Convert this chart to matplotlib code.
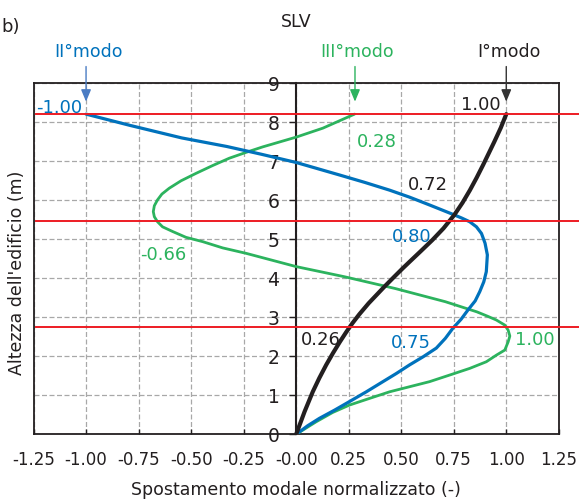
import matplotlib
matplotlib.use("Agg")
import matplotlib.pyplot as plt

# Floor levels (m) marked by the red lines
floor_levels = [2.76, 5.48, 8.21]

# Mode shapes: height (m) and normalised displacement
mode1_y = [0, 0.58, 1.09, 1.44, 1.78, 2.08, 2.37, 2.61, 2.85, 3.08, 3.36, 3.78, 4.03, 4.26, 4.43, 4.68, 4.98,
           5.28, 5.62, 5.94, 6.26, 6.58, 6.91, 7.21, 7.50, 7.86, 8.21]
mode1_x = [0, 0.040, 0.079, 0.110, 0.143, 0.175, 0.208, 0.237, 0.268, 0.301, 0.345, 0.419, 0.465, 0.508, 0.541,
           0.590, 0.648, 0.701, 0.752, 0.792, 0.827, 0.859, 0.890, 0.917, 0.943, 0.974, 1.0]

mode2_y = [0, 0.22, 0.41, 0.62, 0.84, 1.09, 1.35, 1.56, 1.78, 1.99, 2.21, 2.46, 2.72, 2.95, 3.19, 3.42, 3.66,
           3.91, 4.17, 4.60, 4.90, 5.15, 5.32, 5.45, 5.55, 5.64, 5.88, 6.08, 6.26, 6.46, 6.65, 6.97, 7.18,
           7.38, 7.60, 7.92, 8.21]
mode2_x = [0, 0.055, 0.111, 0.183, 0.254, 0.334, 0.413, 0.477, 0.540, 0.605, 0.667, 0.710, 0.746, 0.785, 0.818,
           0.852, 0.874, 0.893, 0.905, 0.910, 0.899, 0.882, 0.858, 0.826, 0.786, 0.746, 0.635, 0.540, 0.445,
           0.326, 0.206, 0.0, -0.165, -0.33, -0.545, -0.79, -1.0]

mode3_y = [0, 0.32, 0.56, 0.75, 0.92, 1.09, 1.22, 1.35, 1.52, 1.69, 1.86, 2.03, 2.16, 2.37, 2.52, 2.67, 2.80,
           2.93, 3.03, 3.14, 3.40, 3.74, 4.04, 4.30, 4.64, 4.78, 4.94, 5.05, 5.20, 5.32, 5.45, 5.58, 5.71,
           5.86, 6.01, 6.16, 6.31, 6.50, 6.69, 6.89, 7.08, 7.23, 7.37, 7.62, 7.85, 8.21]
mode3_x = [0, 0.095, 0.174, 0.254, 0.349, 0.445, 0.540, 0.635, 0.731, 0.826, 0.905, 0.953, 0.993, 1.009, 1.017,
           1.009, 0.993, 0.953, 0.910, 0.860, 0.710, 0.470, 0.230, 0.0, -0.238, -0.350, -0.445, -0.524,
           -0.588, -0.636, -0.660, -0.675, -0.680, -0.675, -0.660, -0.639, -0.604, -0.548, -0.477, -0.398,
           -0.318, -0.238, -0.159, 0.0, 0.127, 0.278]

# Value labels: text, x, y (baseline)
mode1_labels = [("1.00", 0.877, 8.32), ("0.72", 0.629, 6.26), ("0.26", 0.115, 2.29)]
mode2_labels = [("-1.00", -1.126, 8.23), ("0.80", 0.552, 4.94), ("0.75", 0.548, 2.21)]
mode3_labels = [("0.28", 0.383, 7.37), ("-0.66", -0.632, 4.47), ("1.00", 1.134, 2.29)]

x_ticks = [-1.25, -1.0, -0.75, -0.5, -0.25, 0.0, 0.25, 0.5, 0.75, 1.0, 1.25]
x_tick_labels = ["-1.25", "-1.00", "-0.75", "-0.50", "-0.25", "-0.00", "0.25", "0.50", "0.75", "1.00", "1.25"]
y_ticks = [0, 1, 2, 3, 4, 5, 6, 7, 8, 9]

BLACK = "#231f20"
BLUE = "#0072bc"
GREEN = "#2cb35e"
RED = "#ed1c24"

plt.rcParams["font.family"] = ["DejaVu Sans"]

fig = plt.figure(figsize=(5.79, 5.04), dpi=100)
ax = fig.add_axes([0.0579, 0.1383, 0.9072, 0.6964])

ax.set_xlim(-1.25, 1.25)
ax.set_ylim(0, 9)

# grid
ax.grid(True, ls=(0, (4, 2)), color="#a8a8a8", lw=0.9)
ax.set_axisbelow(True)

# curves
ax.plot(mode3_x, mode3_y, color=GREEN, lw=2.0, solid_capstyle="round", solid_joinstyle="round", zorder=3)
ax.plot(mode2_x, mode2_y, color=BLUE, lw=2.3, solid_capstyle="round", solid_joinstyle="round", zorder=3)
ax.plot(mode1_x, mode1_y, color=BLACK, lw=3.0, solid_capstyle="round", solid_joinstyle="round", zorder=4)

# floor lines, running past the right edge
for lvl in floor_levels:
    ax.axhline(lvl, xmin=0.005, xmax=1.038, color=RED, lw=1.4, clip_on=False, zorder=5)

# value labels
for labels, col in [(mode1_labels, BLACK), (mode2_labels, BLUE), (mode3_labels, GREEN)]:
    for txt, xx, yy in labels:
        ax.text(xx, yy, txt, color=col, fontsize=13, ha="center", va="baseline", zorder=6)

# mode names with arrows
modes = [("II°modo", -1.0, BLUE, "#4a7cc4"), ("III°modo", 0.28, GREEN, GREEN), ("I°modo", 1.0, BLACK, "#333333")]
for name, xx, col, acol in modes:
    ax.text(xx + 0.012, 9.68, name, color=col, fontsize=12.5, ha="center", va="baseline", clip_on=False)
    ax.annotate("", xy=(xx, 8.53), xytext=(xx, 9.43), annotation_clip=False,
                arrowprops=dict(arrowstyle="-|>,head_length=0.6,head_width=0.25", color=acol, lw=1.0,
                                shrinkA=0, shrinkB=0, mutation_scale=12))

# axes: y axis through x = 0, full frame around
ax.spines["left"].set_position(("data", 0))
ax.spines["left"].set_linewidth(1.5)
ax.spines["left"].set_color(BLACK)
for s in ["top", "right", "bottom"]:
    ax.spines[s].set_linewidth(1.3)
    ax.spines[s].set_color(BLACK)
ax.axvline(-1.25, color=BLACK, lw=1.3, clip_on=False)

ax.set_xticks(x_ticks)
ax.set_xticklabels(x_tick_labels)
ax.set_yticks(y_ticks)
ax.tick_params(axis="x", direction="in", length=3.5, width=1.0, pad=12, labelsize=12, colors=BLACK)
ax.tick_params(axis="y", direction="out", length=5, width=1.0, pad=7, labelsize=13.5, colors=BLACK)

ax.set_xlabel("Spostamento modale normalizzato (-)", fontsize=12.5, va="center", color=BLACK)
ax.xaxis.set_label_coords(0.5, -0.159)
ax.set_ylabel("Altezza dell'edificio (m)", fontsize=12.5, va="center", color=BLACK)
ax.yaxis.set_label_coords(-0.031, 0.46)

ax.text(0, 10.44, "SLV", fontsize=12.5, ha="center", va="baseline", color=BLACK, clip_on=False)
fig.text(1 / 579, 1 - 31.5 / 504, "b)", fontsize=13, ha="left", va="baseline", color=BLACK)

fig.savefig("out.png", dpi=100)
